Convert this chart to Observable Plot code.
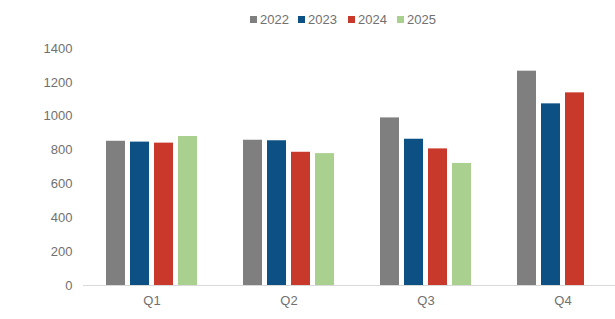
<!DOCTYPE html>
<html><head><meta charset="utf-8">
<script src="https://cdn.jsdelivr.net/npm/d3@7"></script>
<script src="https://cdn.jsdelivr.net/npm/@observablehq/plot@0.6"></script>
<style>
html,body{margin:0;padding:0;background:#fff;overflow:hidden;width:615px;height:319px}
#wrap{position:relative;width:615px;height:319px;overflow:hidden}
#legend{position:absolute;top:12px;left:0;height:16px;font-family:"Liberation Sans",Arial,sans-serif;font-size:13px;color:#707070}
.item{position:absolute;top:0;white-space:nowrap;line-height:16px}
.sw{display:inline-block;width:7px;height:7px;margin-right:3px;vertical-align:1px}
svg{max-width:none!important}
</style></head><body><div id="wrap"><div id="legend"></div></div>
<script>
const quarters = ["Q1","Q2","Q3","Q4"];
const years = ["2022","2023","2024","2025"];
const colors = ["#7f7f7f","#0d5083","#c9392b","#a9d08e"];
const v2022 = [852, 858, 990, 1266];
const v2023 = [847, 855, 864, 1073];
const v2024 = [841, 787, 807, 1138];
const v2025 = [880, 779, 721, null];
const yTicks = [0,200,400,600,800,1000,1200,1400];

const series = [v2022, v2023, v2024, v2025];
const data = [];
years.forEach((yr, i) => quarters.forEach((q, j) => {
  if (series[i][j] != null) data.push({q, year: yr, v: series[i][j]});
}));

const chart = Plot.plot({
  width: 632, height: 319,
  marginLeft: 81, marginRight: 0, marginTop: 48, marginBottom: 34,
  style: {fontFamily: "'Liberation Sans', Arial, sans-serif", fontSize: "13px", color: "#707070", background: "transparent", overflow: "visible"},
  fx: {domain: quarters, padding: 0, label: null, tickSize: 0, tickPadding: 10, axis: "bottom"},
  x: {domain: years, paddingInner: 0.22, paddingOuter: 0.86, axis: null},
  y: {domain: [0, 1400], ticks: yTicks, tickFormat: d => String(d), tickSize: 0, tickPadding: 11, label: null},
  color: {domain: years, range: colors},
  marks: [
    Plot.ruleY([0], {stroke: "#d9d9d9"}),
    Plot.barY(data, {fx: "q", x: "year", y: "v", fill: "year"})
  ]
});
document.getElementById("wrap").appendChild(chart);

const legend = d3.select("#legend");
const lx = [250, 298, 348, 397];
years.forEach((yr, i) => {
  const it = legend.append("div").attr("class", "item").style("left", lx[i] + "px");
  it.append("span").attr("class", "sw").style("background", colors[i]);
  it.append("span").text(yr);
});
</script></body></html>
